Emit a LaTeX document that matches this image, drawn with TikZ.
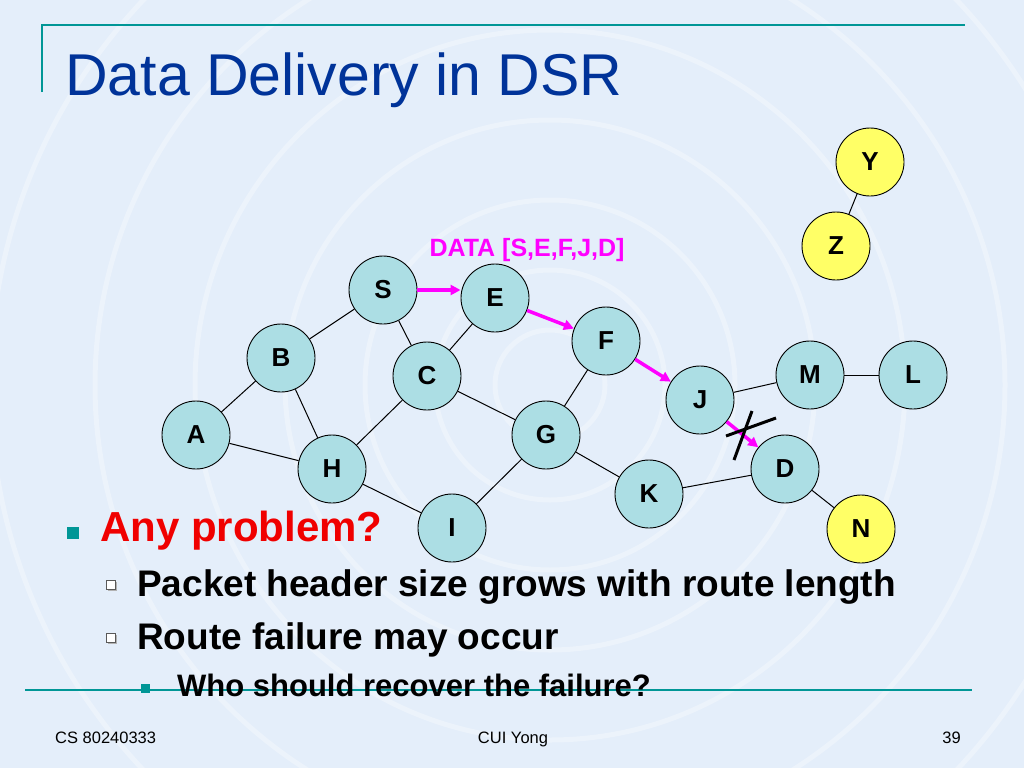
\documentclass[tikz,border=0pt]{standalone}
\usepackage{fontspec}
\setmainfont{Liberation Sans}
\usetikzlibrary{arrows.meta}
\definecolor{bg}{RGB}{228,238,250}
\definecolor{titleblue}{RGB}{0,51,153}
\definecolor{tealline}{RGB}{0,150,150}
\definecolor{nodecyan}{RGB}{172,222,228}
\definecolor{nodeyellow}{RGB}{255,255,102}
\definecolor{mag}{RGB}{255,0,255}
\definecolor{probred}{RGB}{240,0,0}
\tikzset{
  net/.style={circle, draw=black, line width=0.9pt, fill=nodecyan, minimum size=68pt, inner sep=0pt,
    font=\fontsize{26}{26}\selectfont\bfseries},
  ynet/.style={net, fill=nodeyellow},
  link/.style={draw=black, line width=1pt},
  datarrow/.style={draw=mag, line width=3.5pt, -{Triangle[length=10pt,width=10pt]}},
  crossline/.style={draw=black, line width=3pt},
  ring/.style={draw=white, opacity=0.3, line width=5pt},
  bigtext/.style={anchor=base west, inner sep=0pt, font=\fontsize{37}{37}\selectfont\bfseries},
  foot/.style={anchor=base, inner sep=0pt, font=\fontsize{16.5}{16.5}\selectfont},
}
\begin{document}
\begin{tikzpicture}[x=1pt,y=-1pt]
\useasboundingbox (0,0) rectangle (1024,768);
\fill[bg] (0,0) rectangle (1024,768);
\foreach \r in {55,115,185,265,355,455,560} \draw[ring] (550,385) circle[radius=\r pt];

% title and rules
\node[anchor=base west, inner sep=0pt, text=titleblue, font=\fontsize{59}{59}\selectfont] (title) at (65,95) {Data Delivery in DSR};
\draw[tealline, line width=2pt] (42,92) -- (42,25) -- (965,25);
\draw[tealline, line width=2pt] (25,690) -- (972,690);

% network nodes
\node[net] (S) at (383,290) {S};
\node[net] (E) at (495,298) {E};
\node[net] (F) at (606,341) {F};
\node[net] (B) at (281,358) {B};
\node[net] (C) at (427,376) {C};
\node[net] (J) at (700,400) {J};
\node[net] (M) at (810,375) {M};
\node[net] (L) at (913,375) {L};
\node[net] (A) at (196,435) {A};
\node[net] (G) at (546,435) {G};
\node[net] (H) at (332,469) {H};
\node[net] (D) at (785,469) {D};
\node[net] (K) at (649,494) {K};
\node[net] (I) at (452,528) {I};
\node[ynet] (Y) at (870,162) {Y};
\node[ynet] (Z) at (836,246) {Z};
\node[ynet] (N) at (861,529) {N};

% links
\foreach \a/\b in {S/B,S/C,E/C,B/A,B/H,A/H,C/H,C/G,G/F,G/I,G/K,H/I,K/D,D/N,J/M,M/L,Y/Z}
  \draw[link] (\a) -- (\b);

% data path
\node[inner sep=0pt, text=mag, font=\fontsize{25}{25}\selectfont\bfseries, anchor=base] (data) at (527,256) {DATA [S,E,F,J,D]};
\draw[datarrow] (S.east) -- (S.east -| E.west);
\draw[datarrow] (E) -- (F);
\draw[datarrow] (F) -- (J);
\draw[datarrow] (J) -- (D);

% broken link mark
\coordinate (x1) at (726,436);
\coordinate (x2) at (776,418);
\coordinate (x3) at (752,411);
\coordinate (x4) at (734,460);
\draw[crossline] (x1) -- (x2);
\draw[crossline] (x3) -- (x4);

% bullets
\fill[tealline] (67,527) rectangle (79,539);
\node[anchor=base west, inner sep=0pt, text=probred, font=\fontsize{42}{42}\selectfont\bfseries] (q) at (100,541) {Any problem?};
\fill[gray!60] (108,582) rectangle (117,591);
\draw[gray!70!black, line width=0.8pt, fill=white] (106.5,580.5) rectangle (115.5,589.5);
\node[bigtext] (p1) at (137,596) {Packet header size grows with route length};
\fill[gray!60] (108,635) rectangle (117,644);
\draw[gray!70!black, line width=0.8pt, fill=white] (106.5,633.5) rectangle (115.5,642.5);
\node[bigtext] (p2) at (137,649) {Route failure may occur};
\fill[tealline] (140.5,683.5) rectangle (149.5,692.5);
\node[anchor=base west, inner sep=0pt, font=\fontsize{31}{31}\selectfont\bfseries] (p3) at (177,696) {Who should recover the failure?};

% footer
\node[foot, anchor=base west] (f1) at (55,743) {CS 80240333};
\node[foot] (f2) at (513,743) {CUI Yong};
\node[foot, anchor=base east] (f3) at (961,743) {39};
\end{tikzpicture}
\end{document}
